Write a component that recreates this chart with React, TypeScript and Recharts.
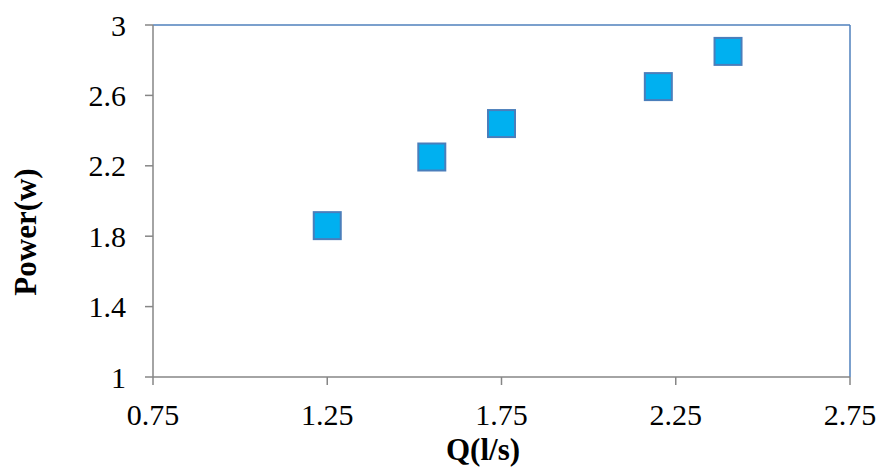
import { ScatterChart, Scatter, XAxis, YAxis, ReferenceLine, Label } from 'recharts';

const flowRates = [1.25, 1.55, 1.75, 2.2, 2.4];
const powerValues = [1.86, 2.25, 2.44, 2.65, 2.85];
const xTicks = [0.75, 1.25, 1.75, 2.25, 2.75];
const yTicks = [1, 1.4, 1.8, 2.2, 2.6, 3];

const data = flowRates.map((q, i) => ({ q, power: powerValues[i] }));

const FONT = '"Liberation Serif", "Times New Roman", serif';
const AXIS_GREY = '#868686';
const BORDER_BLUE = '#4F81BD';

function SquareMarker(props: any) {
    const { cx, cy } = props;
    const size = 27;
    return (
        <rect
            x={cx - size / 2}
            y={cy - size / 2}
            width={size}
            height={size}
            fill="#00B0F0"
            stroke="#4A7EBB"
            strokeWidth={2}
        />
    );
}

export default function App() {
    return (
        <div style={{ position: 'absolute', left: 0, top: 0, width: 882, height: 468, background: '#fff' }}>
            <ScatterChart width={882} height={468} margin={{ top: 25, right: 32, bottom: 0, left: 0 }}>
                <ReferenceLine y={3} stroke={BORDER_BLUE} strokeWidth={1.5} ifOverflow="visible" />
                <ReferenceLine x={2.75} stroke={BORDER_BLUE} strokeWidth={1.5} ifOverflow="visible" />
                <XAxis
                    type="number"
                    dataKey="q"
                    domain={[0.75, 2.75]}
                    ticks={xTicks}
                    height={91}
                    stroke={AXIS_GREY}
                    strokeWidth={1.5}
                    tickSize={8}
                    tickMargin={19}
                    tick={{ fill: '#000', fontSize: 30, fontFamily: FONT }}
                    tickFormatter={(v) => v.toFixed(2)}
                >
                    <Label
                        content={() => (
                            <text x={483} y={460} textAnchor="middle" fontFamily={FONT} fontWeight="bold" fontSize={31} fill="#000">
                                Q(l/s)
                            </text>
                        )}
                    />
                </XAxis>
                <YAxis
                    type="number"
                    dataKey="power"
                    domain={[1, 3]}
                    ticks={yTicks}
                    width={153}
                    stroke={AXIS_GREY}
                    strokeWidth={1.5}
                    tickSize={8}
                    tickMargin={19}
                    tick={{ fill: '#000', fontSize: 30, fontFamily: FONT }}
                >
                    <Label
                        content={() => (
                            <text
                                x={25}
                                y={232}
                                transform="rotate(-90, 25, 232)"
                                textAnchor="middle"
                                dominantBaseline="central"
                                fontFamily={FONT}
                                fontWeight="bold"
                                fontSize={31}
                                fill="#000"
                            >
                                Power(w)
                            </text>
                        )}
                    />
                </YAxis>
                <Scatter data={data} shape={SquareMarker} isAnimationActive={false} />
            </ScatterChart>
        </div>
    );
}
